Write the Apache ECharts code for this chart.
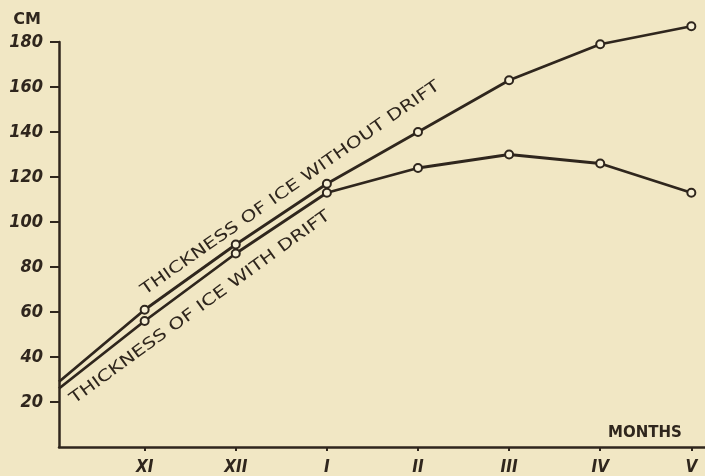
<!DOCTYPE html>
<html>
<head>
<meta charset="utf-8">
<title>Thickness of ice</title>
<script src="https://cdn.jsdelivr.net/npm/echarts@6/dist/echarts.min.js"></script>
<style>
html, body { margin: 0; padding: 0; background: #f1e7c4; }
#ice_chart { width: 705px; height: 476px; }
</style>
</head>
<body>
<div id="ice_chart"></div>
<script>
// month positions on the x axis (0 = start in October, 1 = XI ... 7 = V)
var monthPos = [0.06, 1, 2, 3, 4, 5, 6, 7];
var monthTicks = [1, 2, 3, 4, 5, 6, 7];
var monthNames = ['XI', 'XII', 'I', 'II', 'III', 'IV', 'V'];
// thickness in cm
var withoutDrift = [29, 61, 90, 117, 140, 163, 179, 187];
var withDrift = [26, 56, 86, 113, 124, 130, 126, 113];
var yTicks = [20, 40, 60, 80, 100, 120, 140, 160, 180];

var ink = '#2f261d';
var paper = '#f1e7c4';

var ice_chart = {
    chart : null,
    init : function() {
        this.chart = echarts.init(document.getElementById('ice_chart'));
        var option = {
            backgroundColor : paper,
            animation : false,
            grid : {
                left : 59,
                right : 0,
                top : 42,
                bottom : 28
            },
            xAxis : {
                type : 'value',
                min : 0.06,
                max : 7.15,
                splitLine : { show : false },
                axisLine : { show : true, lineStyle : { color : ink, width : 2.5 } },
                axisTick : {
                    show : true,
                    customValues : monthTicks,
                    length : 4,
                    lineStyle : { color : ink, width : 2 }
                },
                axisLabel : {
                    customValues : monthTicks,
                    color : ink,
                    fontFamily : 'DejaVu Sans Condensed',
                    fontStyle : 'italic',
                    fontWeight : 'bold',
                    fontSize : 17,
                    margin : 12,
                    formatter : function(v) {
                        return monthNames[Math.round(v) - 1] || '';
                    }
                },
                name : 'MONTHS',
                nameLocation : 'end',
                nameGap : -97,
                nameTextStyle : {
                    color : ink,
                    fontFamily : 'DejaVu Sans',
                    fontWeight : 'bold',
                    fontSize : 15,
                    align : 'left',
                    verticalAlign : 'bottom',
                    padding : [0, 0, 6, 0]
                }
            },
            yAxis : {
                type : 'value',
                min : 0,
                max : 180,
                interval : 20,
                splitLine : { show : false },
                axisLine : { show : true, lineStyle : { color : ink, width : 2.5 } },
                axisTick : {
                    show : true,
                    customValues : yTicks,
                    length : 9,
                    lineStyle : { color : ink, width : 2 }
                },
                axisLabel : {
                    customValues : yTicks,
                    color : ink,
                    fontFamily : 'DejaVu Sans Condensed',
                    fontStyle : 'italic',
                    fontWeight : 'bold',
                    fontSize : 18,
                    margin : 16
                },
                name : 'CM',
                nameLocation : 'end',
                nameGap : 14,
                nameTextStyle : {
                    color : ink,
                    fontFamily : 'DejaVu Sans',
                    fontWeight : 'bold',
                    fontSize : 16,
                    align : 'right',
                    padding : [0, 18, 0, 0]
                }
            },
            series : [
                ice_chart.lineSeries('without drift', withoutDrift),
                ice_chart.lineSeries('with drift', withDrift)
            ]
        };
        this.chart.setOption(option);
        this.addLabels();
    },
    /**
     * one curve, hollow circles at each month
     */
    lineSeries : function(name, values) {
        var data = [];
        for (var i = 0; i < values.length; i++) {
            var item = { value : [monthPos[i], values[i]] };
            if (i == 0) {
                item.symbol = 'none';
            }
            data.push(item);
        }
        return {
            name : name,
            type : 'line',
            data : data,
            clip : false,
            symbol : 'circle',
            symbolSize : 8,
            lineStyle : { color : ink, width : 2.8 },
            itemStyle : { color : '#f7f0d6', borderColor : ink, borderWidth : 2 }
        };
    },
    /**
     * slanted captions along the two curves
     */
    addLabels : function() {
        var upper = this.chart.convertToPixel({ gridIndex : 0 }, [2.6, 115]);
        var lower = this.chart.convertToPixel({ gridIndex : 0 }, [1.61, 62]);
        var textStyle = function(text) {
            return {
                text : text,
                fill : ink,
                font : 'normal 16px "DejaVu Sans"',
                align : 'center',
                verticalAlign : 'middle'
            };
        };
        this.chart.setOption({
            graphic : [ {
                type : 'text',
                x : upper[0],
                y : upper[1],
                rotation : 35 * Math.PI / 180,
                scaleX : 1.28,
                style : textStyle('THICKNESS OF ICE WITHOUT DRIFT')
            }, {
                type : 'text',
                x : lower[0],
                y : lower[1],
                rotation : 36 * Math.PI / 180,
                scaleX : 1.28,
                style : textStyle('THICKNESS OF ICE WITH DRIFT')
            } ]
        });
    }
};

ice_chart.init();
</script>
</body>
</html>
